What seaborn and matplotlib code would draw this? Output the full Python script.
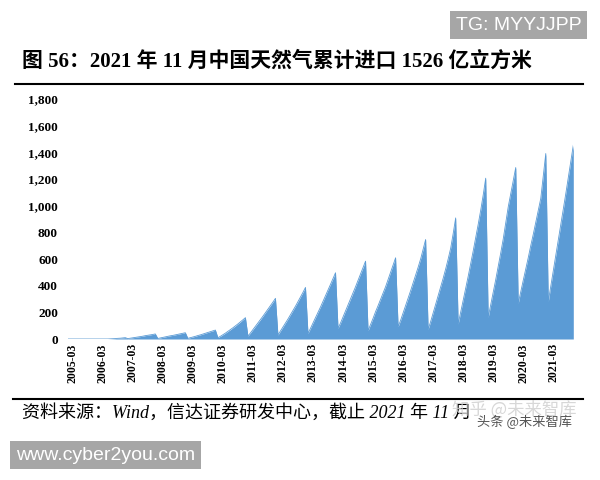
import numpy as np
import pandas as pd
import matplotlib.pyplot as plt
import seaborn as sns
from matplotlib.lines import Line2D

# 每年1-12月天然气累计进口量（亿立方米）
y2005 = [0, 0, 0, 0, 0, 0, 0, 0, 0, 0, 0, 0]
y2006 = [0, 0, 0, 0, 0, 1, 2, 3, 5, 6, 8, 10]
y2007 = [3, 6, 9, 12, 15, 18, 21, 25, 28, 31, 34, 38]
y2008 = [4, 8, 12, 16, 20, 24, 27, 31, 35, 39, 43, 47]
y2009 = [5, 10, 15, 20, 26, 31, 37, 43, 49, 55, 61, 67]
y2010 = [10, 20, 32, 44, 57, 70, 84, 98, 113, 128, 144, 160]
y2011 = [22, 45, 70, 95, 120, 145, 171, 198, 224, 250, 277, 305]
y2012 = [30, 60, 90, 120, 150, 182, 214, 246, 280, 315, 350, 387]
y2013 = [42, 80, 120, 160, 200, 240, 282, 325, 368, 410, 453, 497]
y2014 = [80, 120, 165, 210, 255, 300, 345, 392, 440, 488, 535, 584]
y2015 = [62, 108, 155, 205, 250, 298, 345, 392, 445, 500, 555, 609]
y2016 = [92, 140, 195, 250, 305, 362, 420, 478, 538, 600, 672, 746]
y2017 = [72, 130, 195, 260, 325, 390, 455, 525, 600, 680, 790, 908]
y2018 = [112, 200, 290, 380, 470, 565, 660, 760, 860, 965, 1080, 1206]
y2019 = [162, 255, 350, 445, 545, 645, 750, 870, 991, 1090, 1185, 1286]
y2020 = [267, 355, 440, 525, 610, 700, 785, 875, 965, 1054, 1220, 1391]
y2021 = [280, 395, 510, 625, 740, 855, 970, 1090, 1210, 1330, 1453]

yticks = [0, 200, 400, 600, 800, 1000, 1200, 1400, 1600, 1800]

valores = (y2005 + y2006 + y2007 + y2008 + y2009 + y2010 + y2011 + y2012 + y2013
           + y2014 + y2015 + y2016 + y2017 + y2018 + y2019 + y2020 + y2021)
meses = pd.date_range("2005-01", periods=len(valores), freq="MS")
dados = pd.DataFrame({"idx": np.arange(len(valores)), "mes": meses, "valor": valores})

cor = "#5b9bd5"
fig = plt.figure(figsize=(6, 4.8), dpi=100)
ax = fig.add_axes([67.7 / 600, 1 - 339 / 480, (573.3 - 67.7) / 600, 240 / 480])

sns.lineplot(x="idx", y="valor", data=dados, color=cor, linewidth=0.6, ax=ax)
ax.fill_between(dados["idx"], dados["valor"], color=cor, linewidth=0)

ax.set_xlim(0, len(valores) - 1)
ax.set_ylim(0, 1800)
ax.set_xlabel("")
ax.set_ylabel("")
for s in ax.spines.values():
    s.set_visible(False)
ax.axhline(0, color="#d9d9d9", linewidth=0.8, zorder=0)

# eixo x: marco de cada ano
marcos = dados[dados["mes"].dt.month == 3]
ax.set_xticks(marcos["idx"])
ax.set_xticklabels(marcos["mes"].dt.strftime("%Y-%m"), rotation=90,
                   fontsize=8.5, fontweight="bold", family="Liberation Serif")
ax.set_yticks(yticks)
ax.set_yticklabels([f"{v:,}" for v in yticks], fontsize=9.5, fontweight="bold",
                   family="Liberation Serif")
ax.tick_params(axis="y", length=0, pad=7)
ax.tick_params(axis="x", length=0, pad=3)

# titulo e linhas
fig.text(22 / 600, 1 - 62 / 480, "图 56：2021 年 11 月中国天然气累计进口 1526 亿立方米",
         fontsize=15, fontweight="bold", va="center", ha="left",
         family=["Liberation Serif", "Noto Sans CJK SC"])
fig.add_artist(Line2D([15 / 600, 583 / 600], [1 - 84 / 480] * 2, color="black", lw=1.5))
fig.add_artist(Line2D([13 / 600, 583 / 600], [1 - 399 / 480] * 2, color="black", lw=1.5))

# fonte
fig.text(22 / 600, 1 - 413 / 480, "资料来源：Wind，信达证券研发中心，截止 2021 年 11 月",
         fontsize=13, style="italic", va="center", ha="left",
         family=["Liberation Serif", "Noto Sans CJK SC"])
fig.text(452 / 600, 1 - 410 / 480, "知乎 @未来智库", fontsize=12.5, color="#d0d0d0",
         alpha=0.85, va="center", ha="left", family=["Noto Sans CJK SC", "DejaVu Sans"])
fig.text(477 / 600, 1 - 422 / 480, "头条 @未来智库", fontsize=9.5, color="#555555",
         va="center", ha="left", family=["Noto Sans CJK SC", "DejaVu Sans"])

# marcas d'agua
fig.text(456 / 600, 1 - 25 / 480, "TG: MYYJJPP", fontsize=14, color="white",
         va="center", ha="left", family="Liberation Sans",
         bbox=dict(boxstyle="square,pad=0.3", facecolor="#a6a6a6", edgecolor="none"))
fig.text(16 / 600, 1 - 455 / 480, "www.cyber2you.com", fontsize=14, color="white",
         va="center", ha="left", family="Liberation Sans",
         bbox=dict(boxstyle="square,pad=0.3", facecolor="#a6a6a6", edgecolor="none"))

plt.savefig("out.png", dpi=100, facecolor="white")
